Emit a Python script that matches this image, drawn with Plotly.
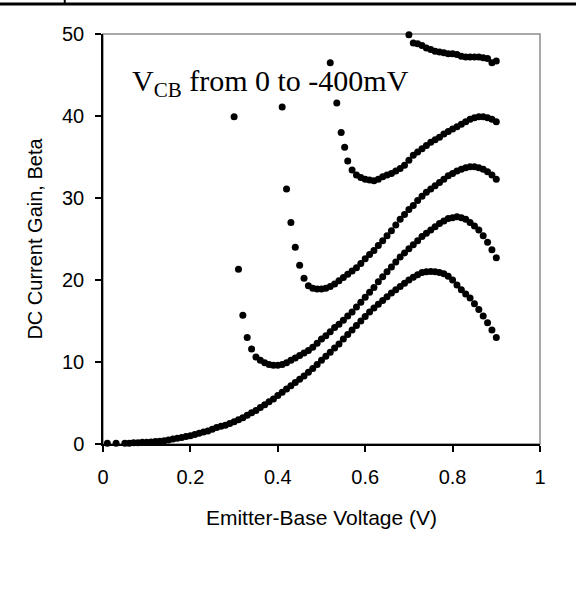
import plotly.graph_objects as go

# ---- data ----
vcb_labels = ["0 mV", "-100 mV", "-200 mV", "-300 mV", "-400 mV"]

x_vcb0 = [0.01, 0.03, 0.05, 0.06, 0.07, 0.08, 0.09, 0.10, 0.11, 0.12,
          0.13, 0.14, 0.15, 0.16, 0.17, 0.18, 0.19, 0.20, 0.21, 0.22,
          0.23, 0.24, 0.25, 0.26, 0.27, 0.28, 0.29, 0.30, 0.31, 0.32,
          0.33, 0.34, 0.35, 0.36, 0.37, 0.38, 0.39, 0.40, 0.41, 0.42,
          0.43, 0.44, 0.45, 0.46, 0.47, 0.48, 0.49, 0.50, 0.51, 0.52,
          0.53, 0.54, 0.55, 0.56, 0.57, 0.58, 0.59, 0.60, 0.61, 0.62,
          0.63, 0.64, 0.65, 0.66, 0.67, 0.68, 0.69, 0.70, 0.71, 0.72,
          0.73, 0.74, 0.75, 0.76, 0.77, 0.78, 0.79, 0.80, 0.81, 0.82,
          0.83, 0.84, 0.85, 0.86, 0.87, 0.88, 0.89, 0.90]
y_vcb0 = [0.1, 0.1, 0.1, 0.1, 0.15, 0.15, 0.2, 0.2, 0.25, 0.3,
          0.35, 0.4, 0.5, 0.6, 0.7, 0.8, 0.9, 1.0, 1.15, 1.3,
          1.45, 1.6, 1.8, 2.0, 2.15, 2.3, 2.5, 2.7, 2.95, 3.2,
          3.5, 3.8, 4.1, 4.45, 4.8, 5.15, 5.5, 5.9, 6.3, 6.7,
          7.1, 7.5, 7.9, 8.3, 8.75, 9.2, 9.7, 10.2, 10.7, 11.2,
          11.7, 12.2, 12.8, 13.35, 13.9, 14.45, 15.0, 15.55, 16.1, 16.6,
          17.05, 17.5, 17.95, 18.4, 18.8, 19.2, 19.6, 20.0, 20.35, 20.65,
          20.9, 21.0, 21.05, 21.0, 20.9, 20.75, 20.45, 20.0, 19.4, 18.8,
          18.3, 17.8, 17.1, 16.4, 15.6, 14.8, 13.9, 13.0]

x_vcb100 = [0.30, 0.31, 0.32, 0.33, 0.34, 0.35, 0.36, 0.37, 0.38, 0.39,
            0.40, 0.41, 0.42, 0.43, 0.44, 0.45, 0.46, 0.47, 0.48, 0.49,
            0.50, 0.51, 0.52, 0.53, 0.54, 0.55, 0.56, 0.57, 0.58, 0.59,
            0.60, 0.61, 0.62, 0.63, 0.64, 0.65, 0.66, 0.67, 0.68, 0.69,
            0.70, 0.71, 0.72, 0.73, 0.74, 0.75, 0.76, 0.77, 0.78, 0.79,
            0.80, 0.81, 0.82, 0.83, 0.84, 0.85, 0.86, 0.87, 0.88, 0.89,
            0.90]
y_vcb100 = [39.9, 21.3, 15.7, 13.0, 11.6, 10.6, 10.2, 9.9, 9.7, 9.6,
            9.6, 9.7, 9.9, 10.2, 10.5, 10.8, 11.1, 11.4, 11.8, 12.3,
            12.8, 13.2, 13.7, 14.2, 14.6, 15.1, 15.6, 16.1, 16.7, 17.3,
            17.9, 18.5, 19.1, 19.8, 20.4, 21.0, 21.6, 22.2, 22.8, 23.3,
            23.8, 24.3, 24.8, 25.3, 25.7, 26.1, 26.5, 26.9, 27.2, 27.5,
            27.6, 27.7, 27.6, 27.4, 27.0, 26.6, 26.1, 25.4, 24.6, 23.7,
            22.7]

x_vcb200 = [0.41, 0.42, 0.43, 0.44, 0.45, 0.46, 0.47, 0.48, 0.49, 0.50,
            0.51, 0.52, 0.53, 0.54, 0.55, 0.56, 0.57, 0.58, 0.59, 0.60,
            0.61, 0.62, 0.63, 0.64, 0.65, 0.66, 0.67, 0.68, 0.69, 0.70,
            0.71, 0.72, 0.73, 0.74, 0.75, 0.76, 0.77, 0.78, 0.79, 0.80,
            0.81, 0.82, 0.83, 0.84, 0.85, 0.86, 0.87, 0.88, 0.89, 0.90]
y_vcb200 = [41.1, 31.1, 27.0, 24.0, 21.8, 20.2, 19.3, 19.0, 18.9, 18.9,
            19.0, 19.2, 19.5, 19.9, 20.3, 20.7, 21.1, 21.5, 22.0, 22.6,
            23.1, 23.6, 24.2, 24.8, 25.4, 26.0, 26.7, 27.4, 28.0, 28.6,
            29.1, 29.7, 30.2, 30.7, 31.1, 31.5, 31.9, 32.3, 32.7, 33.0,
            33.3, 33.5, 33.7, 33.8, 33.8, 33.7, 33.5, 33.2, 32.8, 32.3]

x_vcb300 = [0.52, 0.535, 0.545, 0.553, 0.56, 0.57, 0.58, 0.59, 0.60, 0.61,
            0.62, 0.63, 0.64, 0.65, 0.66, 0.67, 0.68, 0.69, 0.70, 0.71,
            0.72, 0.73, 0.74, 0.75, 0.76, 0.77, 0.78, 0.79, 0.80, 0.81,
            0.82, 0.83, 0.84, 0.85, 0.86, 0.87, 0.88, 0.89, 0.90]
y_vcb300 = [46.5, 41.6, 38.0, 36.2, 34.5, 33.4, 32.8, 32.5, 32.3, 32.2,
            32.1, 32.3, 32.6, 32.8, 33.0, 33.3, 33.6, 34.0, 34.6, 35.2,
            35.6, 36.0, 36.4, 36.8, 37.1, 37.4, 37.8, 38.1, 38.4, 38.7,
            39.0, 39.3, 39.6, 39.8, 39.9, 39.9, 39.8, 39.6, 39.3]

x_vcb400 = [0.70, 0.71, 0.72, 0.73, 0.74, 0.75, 0.76, 0.77, 0.78, 0.79,
            0.80, 0.81, 0.82, 0.83, 0.84, 0.85, 0.86, 0.87, 0.88, 0.89,
            0.90]
y_vcb400 = [49.9, 48.9, 48.8, 48.6, 48.3, 48.1, 47.9, 47.8, 47.7, 47.6,
            47.6, 47.5, 47.3, 47.2, 47.2, 47.2, 47.2, 47.1, 47.0, 46.5,
            46.7]

x_ticks = [0, 0.2, 0.4, 0.6, 0.8, 1]
x_tick_text = ["0", "0.2", "0.4", "0.6", "0.8", "1"]
y_ticks = [0, 10, 20, 30, 40, 50]

series = [(x_vcb0, y_vcb0), (x_vcb100, y_vcb100), (x_vcb200, y_vcb200),
          (x_vcb300, y_vcb300), (x_vcb400, y_vcb400)]

fig = go.Figure()
for name, (xs, ys) in zip(vcb_labels, series):
    fig.add_trace(go.Scatter(
        x=xs, y=ys, mode="markers", name=name,
        marker=dict(color="black", size=7, line=dict(width=0)),
        cliponaxis=False, showlegend=False))

sans = "Liberation Sans, Arial, sans-serif"

fig.update_layout(
    width=576, height=597, autosize=False,
    margin=dict(l=103, r=36, t=34, b=153, pad=0),
    paper_bgcolor="white", plot_bgcolor="white",
    font=dict(family=sans, color="black", size=20),
    xaxis=dict(range=[0, 1], tickvals=x_ticks, ticktext=x_tick_text,
               showgrid=False, zeroline=False, showline=True,
               linecolor="black", linewidth=1.5, ticks="outside",
               ticklen=6, tickwidth=1.5, tickcolor="black",
               tickfont=dict(family=sans, size=20), ticklabelstandoff=8,
               title=dict(text="Emitter-Base Voltage (V)",
                          font=dict(family=sans, size=21), standoff=24)),
    yaxis=dict(range=[0, 50], tickvals=y_ticks,
               showgrid=False, zeroline=False, showline=True,
               linecolor="black", linewidth=1.5, ticks="outside",
               ticklen=6, tickwidth=1.5, tickcolor="black",
               tickfont=dict(family=sans, size=20), ticklabelstandoff=7,
               title=dict(text="DC Current Gain, Beta",
                          font=dict(family=sans, size=20), standoff=14)),
    shapes=[
        dict(type="rect", xref="paper", yref="paper", x0=0, x1=1, y0=0, y1=1,
             line=dict(color="#8c8c8c", width=1.5), layer="below"),
        dict(type="line", xref="paper", yref="paper", x0=-0.24, x1=1.09,
             y0=1.0732, y1=1.0732, line=dict(color="black", width=3)),
        dict(type="line", xref="paper", yref="paper", x0=-0.0875, x1=-0.0875,
             y0=1.0732, y1=1.09, line=dict(color="black", width=2)),
    ],
    annotations=[
        dict(text="V<sub>CB</sub> from 0 to -400mV", xref="paper", yref="paper",
             x=0.062, y=0.88, xanchor="left", yanchor="middle", showarrow=False,
             font=dict(family="Liberation Serif, Times New Roman, serif",
                       size=30, color="black")),
    ],
)

fig.write_html("out.html",
               config={"displayModeBar": False},
               post_script="document.body.style.margin='0';document.body.style.padding='0';")
